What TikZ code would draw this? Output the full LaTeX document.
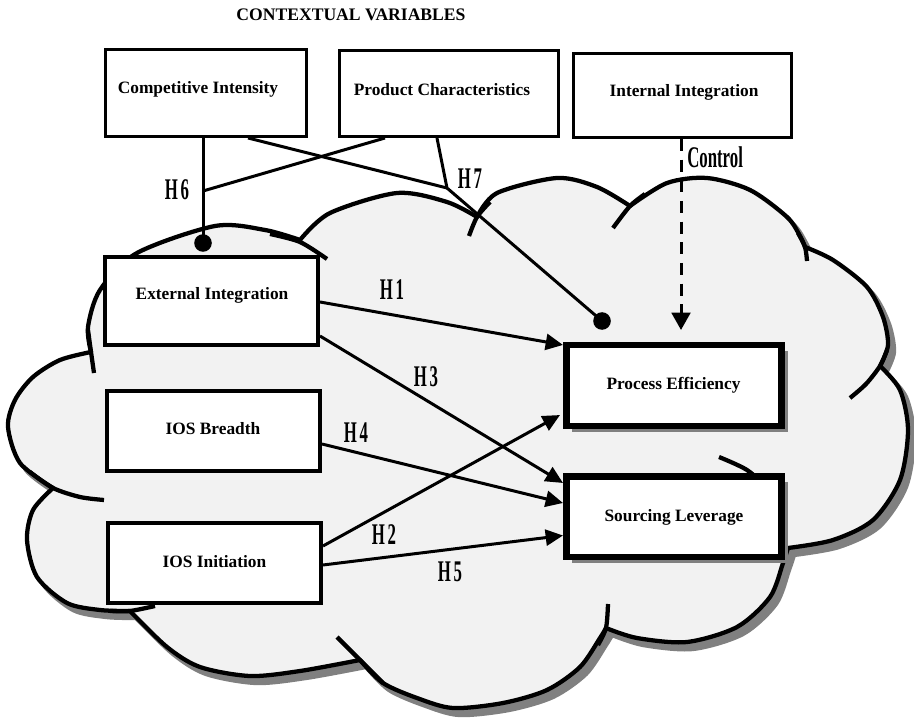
\documentclass[tikz,border=0pt]{standalone}
\usepackage{fontspec}
\setmainfont{Liberation Serif}
\newfontfamily\hfont[FakeStretch=0.56]{Liberation Serif}
\usetikzlibrary{calc,arrows.meta,shadows}
\definecolor{cloudgray}{HTML}{F2F2F2}
\definecolor{shadowgray}{HTML}{808080}
\def\cloudoutline{(91,352)
 -- plot[smooth] coordinates {(91,352) (88,327) (100,290) (137,253) (215,226) (265,230) (300,240)}
 -- plot[smooth] coordinates {(300,240) (330,213) (397,193) (447,202) (477,217)}
 -- plot[smooth] coordinates {(477,217) (497,193) (557,178) (597,187) (630,206)}
 -- plot[smooth] coordinates {(630,206) (667,183) (707,178) (750,190) (787,217) (800,236) (805,247)}
 -- plot[smooth] coordinates {(805,247) (833,260) (867,287) (883,317) (888,345) (880,366)}
 -- plot[smooth] coordinates {(880,366) (900,390) (908,430) (900,480) (873,520) (833,540) (788,548)}
 -- plot[smooth] coordinates {(788,548) (783,563) (770,597) (737,627) (687,642) (637,638) (606,628)}
 -- plot[smooth] coordinates {(606,628) (600,638) (580,667) (547,690) (503,703) (453,708) (417,698) (383,683) (360,660)}
 -- plot[smooth] coordinates {(360,660) (300,671) (250,676) (200,667) (167,647) (130,611)}
 -- plot[smooth] coordinates {(130,611) (100,610) (67,603) (37,577) (27,540) (33,510) (53,488)}
 -- plot[smooth] coordinates {(53,488) (20,463) (8,427) (15,400) (33,377) (60,360) (91,352)}
 -- cycle}
\tikzset{
  boxlabel/.style={font=\bfseries\fontsize{13}{15}\selectfont, inner sep=0pt},
  hlabel/.style={font=\hfont\bfseries\fontsize{22.5}{24}\selectfont, inner sep=0pt},
  topbox/.style={draw, line width=2.25pt, fill=white, inner sep=0pt},
  leftbox/.style={draw, line width=3pt, fill=white, inner sep=0pt, minimum width=159.75pt},
  rightbox/.style={draw, line width=4.9pt, fill=white, inner sep=0pt, minimum width=161.6pt, minimum height=60.4pt,
     drop shadow={shadow xshift=4.6pt, shadow yshift=-4.6pt, fill=shadowgray, opacity=1}},
  conn/.style={line width=2.25pt},
  arr/.style={line width=2.25pt, -{Triangle[length=13pt,width=12pt]}},
  tail/.style={line width=3.2pt},
}
\begin{document}
\begin{tikzpicture}[x=0.75pt,y=-0.75pt]
\useasboundingbox (0,0) rectangle (914,720);
% cloud
\begin{scope}[shift={(6,7)}]
  \filldraw[fill=shadowgray, draw=shadowgray, line width=3.2pt] \cloudoutline;
\end{scope}
\filldraw[fill=cloudgray, draw=black, line width=3.2pt, line join=round] \cloudoutline;
\draw[tail] plot[smooth] coordinates {(88,330) (91,352) (94,373)};
\draw[tail] plot[smooth] coordinates {(270,234) (300,242) (327,259)};
\draw[tail] plot[smooth] coordinates {(469,236) (477,217) (490,202)};
\draw[tail] plot[smooth] coordinates {(613,228) (630,206) (645,194)};
\draw[tail] plot[smooth] coordinates {(798,233) (805,247) (807,261)};
\draw[tail] plot[smooth] coordinates {(887,350) (880,366) (866,384) (850,398)};
\draw[tail] plot[smooth] coordinates {(719,457) (747,470) (770,490)};
\draw[tail] plot[smooth] coordinates {(598,645) (606,628) (608,604)};
\draw[tail] plot[smooth] coordinates {(383,683) (360,660) (337,637)};
\draw[tail] plot[smooth] coordinates {(110,611) (130,611) (155,606)};
\draw[tail] plot[smooth] coordinates {(30,472) (53,488) (80,497) (104,500)};

% title
\node[font=\bfseries\fontsize{13.2}{15}\selectfont, inner sep=0pt] (title) at (351,15) {CONTEXTUAL VARIABLES};

% top boxes
\node[topbox, minimum width=150.75pt, minimum height=65.25pt] (CI) at (206,93) {};
\node[topbox, minimum width=164.25pt, minimum height=64.5pt] (PC) at (449,93.5) {};
\node[topbox, minimum width=163.5pt, minimum height=63pt] (II) at (682.5,95.5) {};
\node[boxlabel] (CIt) at (198,89) {Competitive Intensity};
\node[boxlabel] (PCt) at (442,90) {Product Characteristics};
\node[boxlabel] (IIt) at (684,92) {Internal Integration};

% left boxes
\node[leftbox, minimum height=66pt] (EI) at (211.5,301) {};
\node[leftbox, minimum height=60pt] (IOSB) at (213.5,431) {};
\node[leftbox, minimum height=60pt] (IOSI) at (214.5,563) {};
\node[boxlabel] (EIt) at (212,295) {External Integration};
\node[boxlabel] (IOSBt) at (213,429) {IOS Breadth};
\node[boxlabel] (IOSIt) at (214.5,562) {IOS Initiation};

% right boxes
\node[rightbox] (PE) at (674,385.5) {};
\node[rightbox] (SL) at (674,516.5) {};
\node[boxlabel] (PEt) at (673.5,385) {Process Efficiency};
\node[boxlabel] (SLt) at (674,517) {Sourcing Leverage};

% junctions and free ends
\coordinate (b1) at (203,243);
\coordinate (j6) at (203,191);
\coordinate (j7) at (447,188);
\coordinate (b2) at (602,321);
\coordinate (ctip) at (681,330);

% moderator lines
\draw[conn] (CI.south -| b1) -- (b1);
\draw[conn] ($(PC.south)+(-64,0)$) -- (j6);
\draw[conn] ($(CI.south)+(42,0)$) -- (j7);
\draw[conn] ($(PC.south)+(-12,0)$) -- (j7) -- (b2);
\fill (b1) circle[radius=6.6pt];
\fill (b2) circle[radius=6.6pt];

% control
\draw[line width=2.25pt, dash pattern=on 9pt off 6.5pt, -{Triangle[length=13pt,width=14pt]}] (II.south -| ctip) -- (ctip);

% hypotheses
\draw[arr] ($(EI.east)+(0,1)$) -- ($(PE.north west)+(0,3)$);
\draw[arr] ($(EI.east)+(0,35)$) -- ($(SL.north west)+(0,10)$);
\draw[arr] ($(IOSB.east)+(0,13)$) -- ($(SL.west)+(0,-13.5)$);
\draw[arr] ($(IOSI.east)+(0,-17)$) -- ($(PE.south west)+(-3,-14)$);
\draw[arr] ($(IOSI.east)+(0,2)$) -- ($(SL.west)+(0,19)$);

% labels
\node[hlabel] (h1) at (392,290) {H\kern2pt 1};
\node[hlabel] (h3) at (426,377) {H\kern2pt 3};
\node[hlabel] (h4) at (356,433) {H\kern2pt 4};
\node[hlabel] (h2) at (384,535) {H\kern2pt 2};
\node[hlabel] (h5) at (450,572) {H\kern2pt 5};
\node[hlabel] (h6) at (177,190) {H\kern2pt 6};
\node[hlabel] (h7) at (470,179) {H\kern2pt 7};
\node[hlabel, anchor=west] (ctl) at (687,157) {Control};
\end{tikzpicture}
\end{document}
